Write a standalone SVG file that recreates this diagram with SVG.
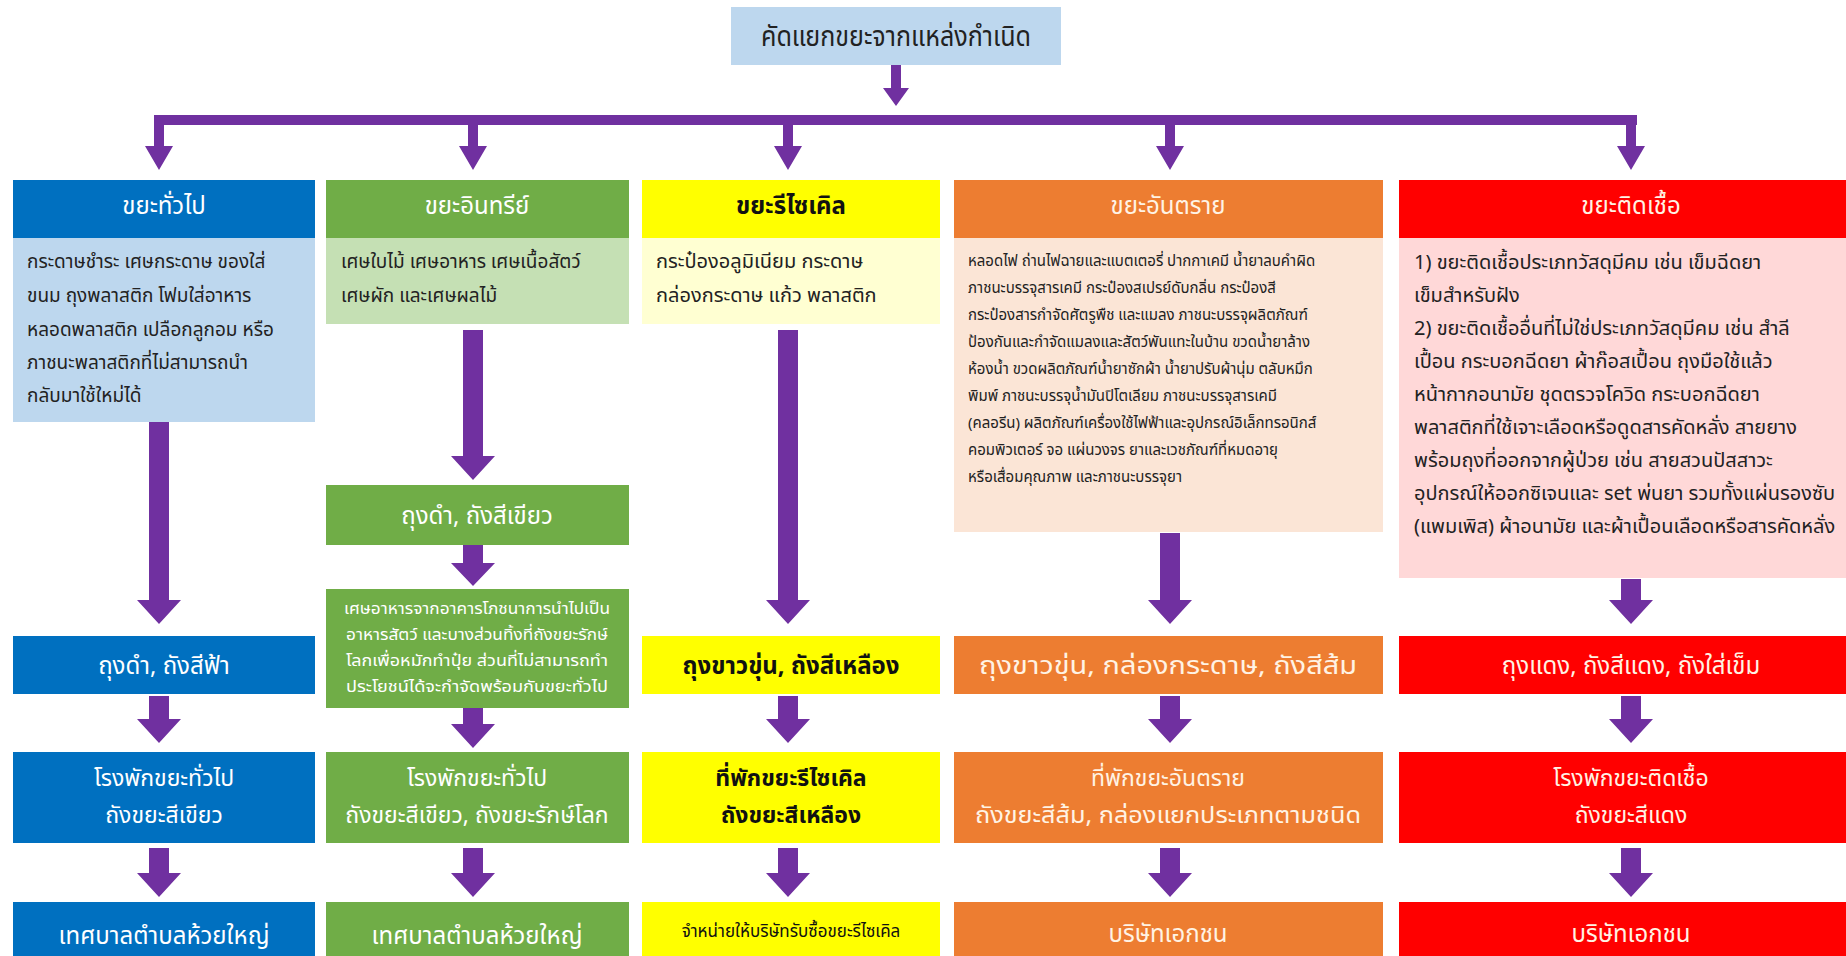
<svg xmlns="http://www.w3.org/2000/svg" width="1846" height="956" viewBox="0 0 1846 956">
<style>
text{font-family:'Noto Sans Thai','Noto Sans','DejaVu Sans',sans-serif}
.arrow{fill:#7030A0}
.c{text-anchor:middle}
.hd{font-size:24px}
.body{font-size:19px;fill:#222}
.b3{font-size:20px;fill:#222}
.b4{font-size:15px;fill:#222}
.b5{font-size:20px;fill:#222}
.row{font-size:24px}
.row3{font-size:23px}
.sm{font-size:16px}
.w{fill:#fff}
.k{fill:#111}
.bold{font-weight:bold}
.cream{fill:#FFF3E4}
</style>
<rect width="1846" height="956" fill="#fff"/>

<g id="top">
<rect x="731" y="7" width="330" height="58" fill="#BDD7EE"/>
<text x="896" y="46" class="c" font-size="28" fill="#222" textLength="270" lengthAdjust="spacingAndGlyphs">คัดแยกขยะจากแหล่งกำเนิด</text>
</g>

<g id="connectors" class="arrow">
<path d="M891,65 H901 V88 H909 L896,106 L883,88 H891 Z"/>
<rect x="154" y="115" width="1483" height="10"/>
<path d="M154,125 H164 V146 H173 L159,170 L145,146 H154 Z"/>
<path d="M468,125 H478 V146 H487 L473,170 L459,146 H468 Z"/>
<path d="M783,125 H793 V146 H802 L788,170 L774,146 H783 Z"/>
<path d="M1165,125 H1175 V146 H1184 L1170,170 L1156,146 H1165 Z"/>
<path d="M1626,125 H1636 V146 H1645 L1631,170 L1617,146 H1626 Z"/>
<!-- col1 -->
<path d="M149,422 H169 V600 H181 L159,624 L137,600 H149 Z"/>
<path d="M149,696 H169 V719 H181 L159,743 L137,719 H149 Z"/>
<path d="M149,848 H169 V873 H181 L159,897 L137,873 H149 Z"/>
<!-- col2 -->
<path d="M463,330 H483 V456 H495 L473,480 L451,456 H463 Z"/>
<path d="M463,545 H483 V563 H495 L473,586 L451,563 H463 Z"/>
<path d="M463,708 H483 V724 H495 L473,748 L451,724 H463 Z"/>
<path d="M463,848 H483 V873 H495 L473,897 L451,873 H463 Z"/>
<!-- col3 -->
<path d="M778,330 H798 V600 H810 L788,624 L766,600 H778 Z"/>
<path d="M778,696 H798 V719 H810 L788,743 L766,719 H778 Z"/>
<path d="M778,848 H798 V873 H810 L788,897 L766,873 H778 Z"/>
<!-- col4 -->
<path d="M1160,533 H1180 V600 H1192 L1170,624 L1148,600 H1160 Z"/>
<path d="M1160,696 H1180 V719 H1192 L1170,743 L1148,719 H1160 Z"/>
<path d="M1160,848 H1180 V873 H1192 L1170,897 L1148,873 H1160 Z"/>
<!-- col5 -->
<path d="M1621,579 H1641 V600 H1653 L1631,624 L1609,600 H1621 Z"/>
<path d="M1621,696 H1641 V719 H1653 L1631,743 L1609,719 H1621 Z"/>
<path d="M1621,848 H1641 V873 H1653 L1631,897 L1609,873 H1621 Z"/>
</g>

<g id="col1">
<rect x="13" y="180" width="302" height="58" fill="#0070C0"/>
<text x="164" y="214" class="c hd w">ขยะทั่วไป</text>
<rect x="13" y="238" width="302" height="184" fill="#BDD7EE"/>
<text class="body"><tspan x="27" y="268">กระดาษชำระ เศษกระดาษ ของใส่</tspan><tspan x="27" y="302">ขนม ถุงพลาสติก โฟมใส่อาหาร</tspan><tspan x="27" y="336">หลอดพลาสติก เปลือกลูกอม หรือ</tspan><tspan x="27" y="369">ภาชนะพลาสติกที่ไม่สามารถนำ</tspan><tspan x="27" y="402">กลับมาใช้ใหม่ได้</tspan></text>
</g>
<g id="col1-bag">
<rect x="13" y="636" width="302" height="58" fill="#0070C0"/>
<text x="164" y="674" class="c row w">ถุงดำ, ถังสีฟ้า</text>
</g>
<g id="col1-store">
<rect x="13" y="752" width="302" height="91" fill="#0070C0"/>
<text class="c row3 w"><tspan x="164" y="786">โรงพักขยะทั่วไป</tspan><tspan x="164" y="823">ถังขยะสีเขียว</tspan></text>
</g>
<g id="col1-final">
<rect x="13" y="902" width="302" height="60" fill="#0070C0"/>
<text x="164" y="944" class="c row w">เทศบาลตำบลห้วยใหญ่</text>
</g>

<g id="col2">
<rect x="326" y="180" width="303" height="58" fill="#70AD47"/>
<text x="477" y="214" class="c hd w">ขยะอินทรีย์</text>
<rect x="326" y="238" width="303" height="86" fill="#C5E0B4"/>
<text class="body"><tspan x="341" y="268">เศษใบไม้ เศษอาหาร เศษเนื้อสัตว์</tspan><tspan x="341" y="302">เศษผัก และเศษผลไม้</tspan></text>
</g>
<g id="col2-bag">
<rect x="326" y="485" width="303" height="60" fill="#70AD47"/>
<text x="477" y="524" class="c row w">ถุงดำ, ถังสีเขียว</text>
</g>
<g id="col2-note">
<rect x="326" y="589" width="303" height="119" fill="#70AD47"/>
<text class="c sm w"><tspan x="477" y="614" textLength="266" lengthAdjust="spacingAndGlyphs">เศษอาหารจากอาคารโภชนาการนำไปเป็น</tspan><tspan x="477" y="640" textLength="262" lengthAdjust="spacingAndGlyphs">อาหารสัตว์ และบางส่วนทิ้งที่ถังขยะรักษ์</tspan><tspan x="477" y="666" textLength="262" lengthAdjust="spacingAndGlyphs">โลกเพื่อหมักทำปุ๋ย  ส่วนที่ไม่สามารถทำ</tspan><tspan x="477" y="692" textLength="262" lengthAdjust="spacingAndGlyphs">ประโยชน์ได้จะกำจัดพร้อมกับขยะทั่วไป</tspan></text>
</g>
<g id="col2-store">
<rect x="326" y="752" width="303" height="91" fill="#70AD47"/>
<text class="c row3 w"><tspan x="477" y="786">โรงพักขยะทั่วไป</tspan><tspan x="477" y="823">ถังขยะสีเขียว, ถังขยะรักษ์โลก</tspan></text>
</g>
<g id="col2-final">
<rect x="326" y="902" width="303" height="60" fill="#70AD47"/>
<text x="477" y="944" class="c row w">เทศบาลตำบลห้วยใหญ่</text>
</g>

<g id="col3">
<rect x="642" y="180" width="298" height="58" fill="#FFFF00"/>
<text x="791" y="214" class="c hd k bold">ขยะรีไซเคิล</text>
<rect x="642" y="238" width="298" height="86" fill="#FFFFD2"/>
<text class="b3"><tspan x="656" y="268">กระป๋องอลูมิเนียม กระดาษ</tspan><tspan x="656" y="302">กล่องกระดาษ แก้ว พลาสติก</tspan></text>
</g>
<g id="col3-bag">
<rect x="642" y="636" width="298" height="58" fill="#FFFF00"/>
<text x="791" y="674" class="c row k bold">ถุงขาวขุ่น, ถังสีเหลือง</text>
</g>
<g id="col3-store">
<rect x="642" y="752" width="298" height="91" fill="#FFFF00"/>
<text class="c row3 k bold"><tspan x="791" y="786">ที่พักขยะรีไซเคิล</tspan><tspan x="791" y="823">ถังขยะสีเหลือง</tspan></text>
</g>
<g id="col3-final">
<rect x="642" y="902" width="298" height="60" fill="#FFFF00"/>
<text x="791" y="937" class="c k" font-size="17">จำหน่ายให้บริษัทรับซื้อขยะรีไซเคิล</text>
</g>

<g id="col4">
<rect x="954" y="180" width="429" height="58" fill="#ED7D31"/>
<text x="1168" y="214" class="c hd cream">ขยะอันตราย</text>
<rect x="954" y="238" width="429" height="294" fill="#FBE5D6"/>
<text class="b4"><tspan x="968" y="266">หลอดไฟ ถ่านไฟฉายและแบตเตอรี่ ปากกาเคมี น้ำยาลบคำผิด</tspan><tspan x="968" y="293">ภาชนะบรรจุสารเคมี กระป๋องสเปรย์ดับกลิ่น  กระป๋องสี</tspan><tspan x="968" y="320">กระป๋องสารกำจัดศัตรูพืช และแมลง ภาชนะบรรจุผลิตภัณฑ์</tspan><tspan x="968" y="347">ป้องกันและกำจัดแมลงและสัตว์พันแทะในบ้าน ขวดน้ำยาล้าง</tspan><tspan x="968" y="374">ห้องน้ำ ขวดผลิตภัณฑ์น้ำยาซักผ้า น้ำยาปรับผ้านุ่ม ตลับหมึก</tspan><tspan x="968" y="401">พิมพ์ ภาชนะบรรจุน้ำมันปิโตเลียม ภาชนะบรรจุสารเคมี</tspan><tspan x="968" y="428">(คลอรีน) ผลิตภัณฑ์เครื่องใช้ไฟฟ้าและอุปกรณ์อิเล็กทรอนิกส์</tspan><tspan x="968" y="455">คอมพิวเตอร์ จอ แผ่นวงจร ยาและเวชภัณฑ์ที่หมดอายุ</tspan><tspan x="968" y="482">หรือเสื่อมคุณภาพ และภาชนะบรรจุยา</tspan></text>
</g>
<g id="col4-bag">
<rect x="954" y="636" width="429" height="58" fill="#ED7D31"/>
<text x="1168" y="674" class="c row cream" textLength="378" lengthAdjust="spacingAndGlyphs">ถุงขาวขุ่น, กล่องกระดาษ, ถังสีส้ม</text>
</g>
<g id="col4-store">
<rect x="954" y="752" width="429" height="91" fill="#ED7D31"/>
<text class="c row3 cream"><tspan x="1168" y="786">ที่พักขยะอันตราย</tspan><tspan x="1168" y="823" textLength="386" lengthAdjust="spacingAndGlyphs">ถังขยะสีส้ม, กล่องแยกประเภทตามชนิด</tspan></text>
</g>
<g id="col4-final">
<rect x="954" y="902" width="429" height="60" fill="#ED7D31"/>
<text x="1168" y="942" class="c row cream">บริษัทเอกชน</text>
</g>

<g id="col5">
<rect x="1399" y="180" width="447" height="58" fill="#FF0000"/>
<text x="1631" y="214" class="c hd cream">ขยะติดเชื้อ</text>
<rect x="1399" y="238" width="447" height="340" fill="#FFD8D8"/>
<text class="b5"><tspan x="1414" y="269">1) ขยะติดเชื้อประเภทวัสดุมีคม เช่น เข็มฉีดยา</tspan><tspan x="1414" y="302">เข็มสำหรับฝัง</tspan><tspan x="1414" y="335">2) ขยะติดเชื้ออื่นที่ไม่ใช่ประเภทวัสดุมีคม เช่น สำลี</tspan><tspan x="1414" y="368">เปื้อน กระบอกฉีดยา ผ้าก๊อสเปื้อน ถุงมือใช้แล้ว</tspan><tspan x="1414" y="401">หน้ากากอนามัย  ชุดตรวจโควิด กระบอกฉีดยา</tspan><tspan x="1414" y="434">พลาสติกที่ใช้เจาะเลือดหรือดูดสารคัดหลั่ง สายยาง</tspan><tspan x="1414" y="467">พร้อมถุงที่ออกจากผู้ป่วย  เช่น สายสวนปัสสาวะ</tspan><tspan x="1414" y="500">อุปกรณ์ให้ออกซิเจนและ  set พ่นยา รวมทั้งแผ่นรองซับ</tspan><tspan x="1414" y="533">(แพมเพิส) ผ้าอนามัย  และผ้าเปื้อนเลือดหรือสารคัดหลั่ง</tspan></text>
</g>
<g id="col5-bag">
<rect x="1399" y="636" width="447" height="58" fill="#FF0000"/>
<text x="1631" y="674" class="c row cream">ถุงแดง, ถังสีแดง, ถังใส่เข็ม</text>
</g>
<g id="col5-store">
<rect x="1399" y="752" width="447" height="91" fill="#FF0000"/>
<text class="c row3 cream"><tspan x="1631" y="786">โรงพักขยะติดเชื้อ</tspan><tspan x="1631" y="823">ถังขยะสีแดง</tspan></text>
</g>
<g id="col5-final">
<rect x="1399" y="902" width="447" height="60" fill="#FF0000"/>
<text x="1631" y="942" class="c row cream">บริษัทเอกชน</text>
</g>
</svg>
